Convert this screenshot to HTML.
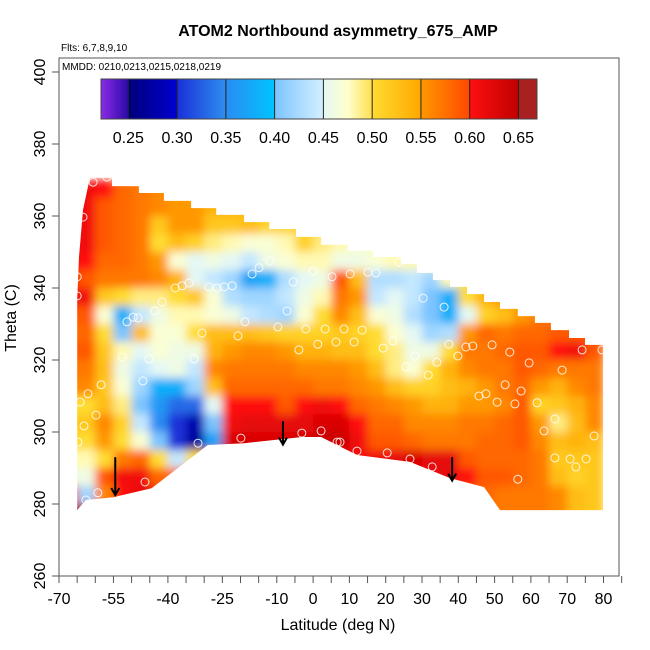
<!DOCTYPE html>
<html><head><meta charset="utf-8">
<style>
html,body{margin:0;padding:0;background:#fff;}
svg{display:block;font-family:"Liberation Sans",Arial,sans-serif;}
</style></head>
<body>
<svg id="chart" width="650" height="650" viewBox="0 0 650 650" xmlns="http://www.w3.org/2000/svg">
<defs>
<filter id="bl" x="-5%" y="-5%" width="110%" height="110%"><feGaussianBlur stdDeviation="4.5"/></filter>
<clipPath id="dataClip"><polygon id="clipPoly" points=""/></clipPath>
</defs>
<text x="338" y="36" text-anchor="middle" font-size="16" font-weight="bold">ATOM2 Northbound asymmetry_675_AMP</text>
<text x="61" y="51" font-size="10">Flts: 6,7,8,9,10</text>
<g id="heat" clip-path="url(#dataClip)"><g id="cells" filter="url(#bl)"></g></g>
<g id="points"></g>
<g id="arrows"></g>
<rect x="59" y="58" width="560" height="518" fill="none" stroke="#555" stroke-width="1"/>
<text x="62" y="70" font-size="10">MMDD: 0210,0213,0215,0218,0219</text>
<g id="cbar"></g>
<g id="xaxis"></g>
<g id="yaxis"></g>
<text x="338" y="630" text-anchor="middle" font-size="16">Latitude (deg N)</text>
<text transform="translate(16,318) rotate(-90)" text-anchor="middle" font-size="16">Theta (C)</text>
</svg>
<script>
const latCenters=[-67.5,-62.5,-57.5,-52.5,-47.5,-42.5,-37.5,-32.5,-27.5,-22.5,-17.5,-12.5,-7.5,-2.5,2.5,7.5,12.5,17.5,22.5,27.5,32.5,37.5,42.5,47.5,52.5,57.5,62.5,67.5,72.5,77.5];
const thetaCenters=[367.5,362.5,357.5,352.5,347.5,342.5,337.5,332.5,327.5,322.5,317.5,312.5,307.5,302.5,297.5,292.5,287.5,282.5,277.5];
const gridValues=[
[.61,.61,.60,.58,.57,.56,.55,.54,.53,.53,.53,.53,.53,.53,.53,.53,.53,.53,.53,.53,.53,.53,.53,.53,.53,.53,.53,.53,.53,.53],
[.61,.61,.59,.58,.57,.56,.55,.55,.54,.54,.53,.52,.52,.52,.52,.52,.52,.52,.52,.52,.52,.52,.52,.52,.52,.52,.52,.52,.52,.52],
[.61,.61,.59,.58,.57,.52,.55,.55,.52,.52,.53,.51,.51,.51,.51,.50,.50,.50,.50,.50,.50,.50,.50,.50,.50,.50,.50,.50,.50,.50],
[.61,.61,.59,.58,.57,.50,.53,.51,.49,.48,.47,.47,.48,.51,.49,.48,.47,.48,.48,.48,.48,.48,.48,.48,.48,.48,.48,.48,.48,.48],
[.60,.60,.58,.58,.57,.55,.47,.45,.46,.45,.44,.46,.47,.48,.48,.46,.46,.47,.48,.48,.48,.48,.48,.48,.48,.48,.48,.48,.48,.48],
[.60,.59,.57,.57,.57,.56,.54,.45,.44,.42,.37,.38,.43,.45,.46,.59,.53,.43,.43,.44,.42,.48,.50,.50,.50,.50,.50,.50,.50,.50],
[.61,.61,.52,.50,.49,.49,.50,.52,.47,.43,.42,.42,.44,.46,.48,.57,.55,.44,.45,.44,.40,.38,.50,.54,.55,.55,.55,.55,.55,.55],
[.59,.59,.47,.38,.44,.46,.48,.48,.47,.46,.44,.43,.42,.47,.50,.56,.53,.47,.46,.43,.40,.38,.45,.51,.53,.55,.57,.57,.57,.57],
[.58,.58,.50,.40,.53,.47,.47,.50,.53,.53,.53,.52,.51,.51,.51,.52,.51,.50,.47,.45,.42,.43,.55,.58,.57,.58,.58,.59,.59,.59],
[.59,.59,.52,.48,.45,.47,.46,.46,.54,.55,.56,.56,.55,.54,.54,.53,.53,.50,.49,.46,.46,.50,.57,.57,.58,.59,.59,.60,.61,.59],
[.57,.57,.53,.46,.44,.45,.46,.44,.56,.57,.57,.57,.57,.56,.56,.56,.55,.53,.49,.47,.50,.54,.56,.57,.57,.59,.58,.57,.57,.57],
[.56,.56,.52,.47,.42,.38,.38,.42,.53,.58,.58,.58,.58,.58,.57,.57,.56,.55,.53,.51,.51,.53,.54,.55,.57,.58,.55,.54,.56,.57],
[.50,.50,.53,.49,.40,.36,.33,.33,.45,.60,.60,.60,.59,.60,.61,.60,.58,.57,.56,.55,.54,.54,.55,.55,.56,.59,.51,.52,.54,.56],
[.52,.52,.56,.51,.44,.35,.30,.28,.40,.61,.62,.62,.62,.62,.63,.63,.60,.58,.58,.56,.56,.56,.57,.57,.58,.59,.55,.49,.53,.56],
[.50,.50,.55,.50,.47,.40,.30,.27,.37,.63,.63,.63,.63,.63,.64,.64,.61,.59,.59,.58,.57,.57,.57,.58,.58,.59,.56,.53,.54,.53],
[.48,.48,.50,.57,.58,.50,.44,.50,.61,.63,.63,.63,.63,.63,.63,.62,.61,.61,.62,.63,.62,.62,.59,.58,.58,.58,.57,.52,.52,.52],
[.46,.46,.59,.61,.61,.58,.58,.58,.59,.61,.61,.61,.61,.61,.61,.61,.61,.61,.62,.62,.62,.62,.60,.59,.59,.58,.57,.53,.51,.52],
[.60,.42,.56,.60,.62,.61,.59,.59,.59,.59,.59,.59,.59,.59,.59,.59,.59,.59,.59,.59,.59,.59,.59,.58,.57,.57,.57,.56,.53,.52],
[.65,.65,.63,.61,.61,.59,.59,.59,.59,.59,.59,.59,.59,.59,.59,.59,.59,.59,.59,.59,.59,.59,.59,.57,.57,.57,.57,.56,.53,.52]
];
const boundaryLat=[-65.0,-64.5,-63.4,-61.5,-55.4,-55.4,-48,-48,-41.1,-41.1,-33.6,-33.6,-26.7,-26.7,-19.0,-19.0,-12.1,-12.1,-4.7,-4.7,2.2,2.2,9.6,9.6,16.5,16.5,24.2,24.2,28.6,28.6,33.0,33.0,37.7,37.7,42.4,42.4,47.1,47.1,51.5,51.5,56.4,56.4,61.1,61.1,65.5,65.5,70.5,70.5,74.9,74.9,79.9,79.9,51.5,47.1,37.7,26.7,12.1,2.2,-3.0,-19.0,-29.0,-44.5,-55.0,-62.6,-65.0];
const boundaryTheta=[336.7,348.6,361.7,370.6,370.6,368.3,368.3,366.4,366.4,364.2,364.2,362.2,362.2,360.3,360.3,358.3,358.3,356.4,356.4,354.2,354.2,352.0,352.0,350.3,350.3,348.6,348.6,346.7,346.7,344.2,344.2,342.2,342.2,340.3,340.3,338.3,338.3,336.1,336.1,334.2,334.2,332.2,332.2,330.3,330.3,328.3,328.3,326.1,326.1,324.2,324.2,278.3,278.3,284.7,287.2,291.7,293.6,298.6,298.6,296.9,296.4,284.4,281.9,281.1,278.3];
const pointLat=[-60.6,-56.8,-63.4,-65.0,-65.0,-38.0,-36.1,-34.2,-28.7,-26.5,-24.5,-22.3,-16.8,-14.9,-11.9,-5.5,0.0,5.2,-7.2,-41.6,-43.6,-49.6,-51.3,-48.2,-30.6,-18.8,-9.7,-2.0,3.3,1.3,-3.9,-20.7,-52.6,-45.2,-32.8,-46.9,-58.4,-62.0,-64.2,-59.8,-63.1,-64.8,-31.7,-19.9,-3.1,2.2,6.6,-46.3,-59.3,-62.6,10.2,15.1,17.3,23.7,30.3,36.1,8.5,13.5,22.0,19.3,6.3,11.3,28.1,37.4,42.1,44.0,49.3,39.9,54.2,34.1,25.6,31.7,59.5,68.6,74.1,79.6,52.9,57.3,45.7,47.6,50.7,55.6,61.7,66.6,63.6,77.4,66.6,70.8,75.2,72.4,56.4,32.8,26.7,20.4,12.1,7.4];
const pointTheta=[369.4,370.8,359.7,343.1,337.8,340,340.6,341.4,340.3,340,340.3,340.6,343.9,345.6,347.5,341.7,344.7,343.1,333.6,336.1,333.6,331.9,330.6,331.7,327.5,330.6,329.2,328.6,328.6,324.4,322.8,326.7,320.8,320.3,320.3,314.2,313.1,310.6,308.3,304.7,301.7,297.2,296.9,298.3,299.7,300.3,297.2,286.1,283.1,281.1,343.9,344.4,344.2,347.2,337.2,334.7,328.6,328.3,325.3,323.3,325,325,321.1,324.4,323.6,323.9,324.2,321.1,322.2,319.4,318.1,315.8,319.2,317.2,322.8,322.8,313.1,311.4,310,310.6,308.3,307.8,308.1,303.6,300.3,298.9,292.8,292.5,292.5,290.3,286.9,290.3,292.5,294.2,294.7,297.2];
const arrowLat=[-54.5,-8.3,38.3];
const arrowTop=[293,303,293];
const arrowBottom=[282.5,296.5,286.5];
const xTicks=[-70,-65,-60,-55,-50,-45,-40,-35,-30,-25,-20,-15,-10,-5,0,5,10,15,20,25,30,35,40,45,50,55,60,65,70,75,80,85];
const xTickLabels=[-70,-55,-40,-25,-10,0,10,20,30,40,50,60,70,80];
const yTicks=[260,280,300,320,340,360,380,400];
const cbTicks=[0.25,0.30,0.35,0.40,0.45,0.50,0.55,0.60,0.65];
const cbMin=0.222, cbMax=0.669;

const NS='http://www.w3.org/2000/svg';
function X(lat){return 59+(lat+70)*3.63;}
function Y(th){return 576-(th-260)*3.6;}
function mk(tag,attrs,parent){const e=document.createElementNS(NS,tag);for(const k in attrs)e.setAttribute(k,attrs[k]);parent.appendChild(e);return e;}
const stops=[[0.222,'#8b2be6'],[0.2499,'#2a0aa8'],[0.25,'#00007a'],[0.2999,'#0000d0'],[0.30,'#1a30d8'],[0.3499,'#2e8ef0'],[0.35,'#2a8cf2'],[0.3999,'#00c4ff'],[0.40,'#7cc4ff'],[0.4499,'#d4f0ff'],[0.45,'#e4f8f4'],[0.475,'#ffffcc'],[0.4999,'#ffe050'],[0.50,'#ffdc30'],[0.5499,'#ffa800'],[0.55,'#ff9800'],[0.5999,'#ff4800'],[0.60,'#ff1010'],[0.6499,'#c00000'],[0.65,'#a82020'],[0.67,'#a82020']];
function hex(h){return [parseInt(h.substr(1,2),16),parseInt(h.substr(3,2),16),parseInt(h.substr(5,2),16)];}
function color(v){
  if(v<=stops[0][0])return stops[0][1];
  for(let i=1;i<stops.length;i++){if(v<=stops[i][0]){const a=hex(stops[i-1][1]),b=hex(stops[i][1]);const t=(v-stops[i-1][0])/(stops[i][0]-stops[i-1][0]);return 'rgb('+a.map((c,j)=>Math.round(c+(b[j]-c)*t)).join(',')+')';}}
  return stops[stops.length-1][1];
}
document.getElementById('clipPoly').setAttribute('points',boundaryLat.map((l,i)=>X(l).toFixed(1)+','+Y(boundaryTheta[i]).toFixed(1)).join(' '));
const cells=document.getElementById('cells');
thetaCenters.forEach((th,r)=>{latCenters.forEach((la,c)=>{
  const x0=X(la-2.5),x1=X(la+2.5),y0=Y(th+2.5),y1=Y(th-2.5);
  const el=mk('rect',{x:x0.toFixed(1),y:y0.toFixed(1),width:(x1-x0+0.6).toFixed(1),height:(y1-y0+0.6).toFixed(1),fill:color(gridValues[r][c])},cells);
  
  
});});
const pts=document.getElementById('points');
pointLat.forEach((la,i)=>{
  const el=mk('circle',{cx:X(la).toFixed(1),cy:Y(pointTheta[i]).toFixed(1),r:4,fill:'none',stroke:'#fff','stroke-width':1,'stroke-opacity':0.85},pts);
  
  
});
const ar=document.getElementById('arrows');
arrowLat.forEach((la,i)=>{
  const x=X(la),yt=Y(arrowTop[i]),yb=Y(arrowBottom[i]);
  const g=mk('g',{},ar);
  
  
  mk('line',{x1:x,y1:yt,x2:x,y2:yb,stroke:'#000','stroke-width':2},g);
  mk('polyline',{points:(x-4)+','+(yb-7)+' '+x+','+yb+' '+(x+4)+','+(yb-7),fill:'none',stroke:'#000','stroke-width':2},g);
});
const cb=document.getElementById('cbar');
function CX(v){return 101+(v-cbMin)/(cbMax-cbMin)*436;}
for(let px=101;px<537;px++){
  const v=cbMin+(px+0.5-101)/436*(cbMax-cbMin);
  mk('rect',{x:px,y:79,width:1.2,height:40,fill:color(v)},cb);
}
cbTicks.forEach(t=>{
  mk('line',{x1:CX(t),y1:79,x2:CX(t),y2:119,stroke:'#222','stroke-width':1},cb);
  const tx=mk('text',{x:CX(t),y:143,'text-anchor':'middle','font-size':16},cb);
  tx.textContent=t.toFixed(2);
  
  
});
mk('rect',{x:101,y:79,width:436,height:40,fill:'none',stroke:'#444','stroke-width':1},cb);
const xa=document.getElementById('xaxis');
xTicks.forEach(t=>{const el=mk('line',{x1:X(t),y1:576,x2:X(t),y2:583,stroke:'#555'},xa);});
xTickLabels.forEach(t=>{const el=mk('text',{x:X(t),y:604,'text-anchor':'middle','font-size':16},xa);el.textContent=t;});
const ya=document.getElementById('yaxis');
yTicks.forEach(t=>{
  const el=mk('line',{x1:52,y1:Y(t),x2:59,y2:Y(t),stroke:'#555'},ya);
  
  
  const tx=mk('text',{transform:'translate(45,'+Y(t)+') rotate(-90)','text-anchor':'middle','font-size':16},ya);
  tx.textContent=t;
  
  
});
</script>
</body></html>
